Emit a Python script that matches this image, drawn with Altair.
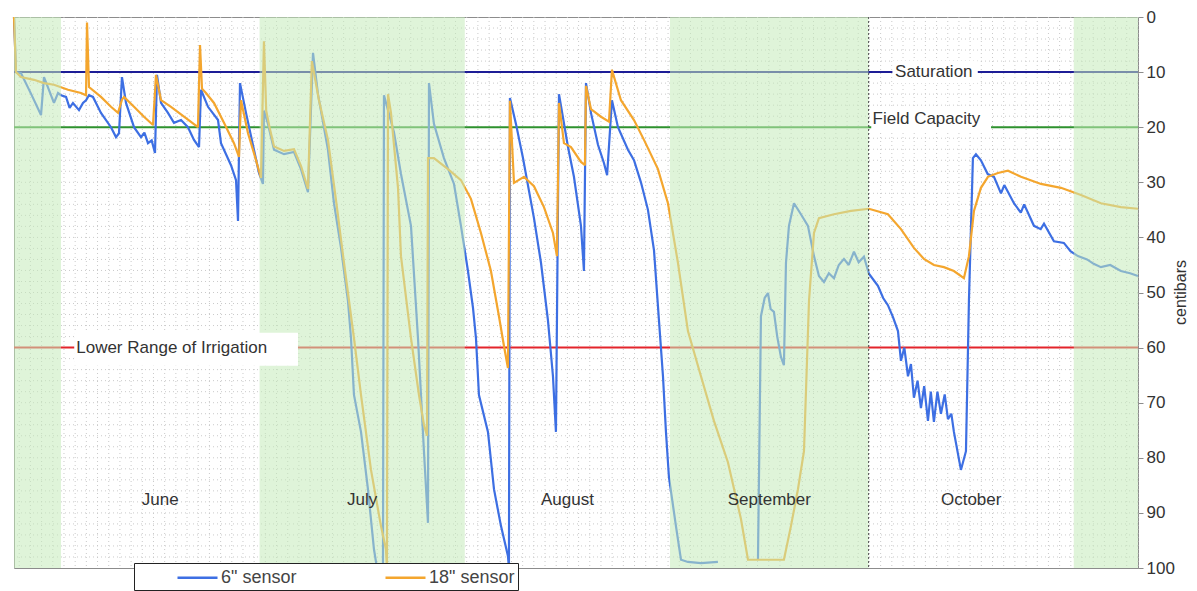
import altair as alt
import pandas as pd
import numpy as np

# ---------------- data ----------------
# day index: 0 = June 1 ; values in centibars
s6_day_a = [-7.1, -6.8, -6.04, -4.5, -3.02, -2.57, -1.06, -0.45, 0.0, 0.76, 1.3, 1.81, 2.72, 3.32, 3.78, 4.23, 4.83,
            6.04, 7.55, 8.31, 8.76, 9.21, 9.82, 11.03, 12.08, 12.6, 13.14, 13.7, 14.2, 14.5, 15.11, 16.16, 17.07,
            18.13, 19.18, 20.09, 20.85, 21.15, 22.21, 23.72, 24.17, 25.68, 26.44, 26.74, 27.04, 27.95, 29.15,
            29.91, 30.51, 30.66, 31.27, 32.18, 33.69, 35.2, 36.25, 37.31, 38.07, 38.82, 40.33, 41.24, 42.3, 43.35,
            43.81, 44.26, 45.32, 46.37, 47.28, 47.73, 48.64, 48.79, 50.3, 51.36, 52.87, 53.93, 54.83, 55.44, 55.59,
            56.34, 57.85, 59.37, 60.42, 61.48, 62.24, 62.69, 63.14, 64.5, 65.41, 66.47, 67.52, 67.67, 67.82, 68.73,
            69.79, 71.45, 72.51, 73.56, 74.32, 74.77, 75.23, 76.59, 77.49, 78.55, 79.0, 79.31, 80.06, 81.12, 82.02,
            82.5, 83.23, 84.14, 85.65, 86.56, 87.61, 88.67, 89.58, 90.33, 90.94, 91.39, 91.84, 92.9, 93.66, 94.71,
            96.68, 99.24]
s6_val_a = [0, 10.0, 10.2, 14.0, 17.8, 10.9, 15.6, 13.8, 14.2, 14.5, 16.5, 15.6, 16.9, 15.6, 15.1, 14.2, 14.5,
            17.4, 20.0, 21.8, 21.1, 10.9, 15.6, 20.0, 21.8, 21.0, 22.9, 22.4, 24.7, 10.5, 15.6, 17.4, 19.2,
            18.7, 20.0, 22.3, 23.6, 13.2, 16.3, 18.7, 22.9, 26.9, 29.6, 37.0, 12.0, 17.4, 24.1,
            28.3, 30.3, 17.0, 19.4, 24.1, 24.9, 24.5, 27.6, 31.8, 6.5, 14.0, 24.1, 33.8, 41.9, 51.5,
            58.3, 68.6, 75.3, 85.7, 96.6, 100, 100, 14.2, 20.9, 28.5, 37.9, 58.3, 78.8, 91.8, 12.0,
            19.4, 25.6, 30.3, 37.9, 46.1, 52.8, 58.3, 68.6, 75.3, 85.7, 92.4, 97.8, 100, 14.7, 19.4,
            25.6, 36.5, 44.6, 55.0, 65.2, 75.3, 14.0, 23.6, 29.0, 37.9, 46.1, 12.0, 17.4, 23.2, 26.5,
            28.7, 15.1, 20.0, 24.1, 26.0, 30.0, 35.0, 42.3, 55.0, 65.2, 75.3, 83.5, 92.4, 98.5, 98.9,
            99.1, 98.9]
s6_day_b = [105.29, 105.74, 106.3, 106.8, 107.2, 107.7, 108.2, 108.76, 109.21, 109.52, 109.97, 110.73, 111.78,
            112.84, 113.75, 114.5, 115.26, 116.0, 116.77, 117.5, 118.28, 119.0, 119.79, 120.5, 121.3, 122.05,
            123.41, 124.2, 124.92, 125.7, 126.44, 126.89, 127.4, 127.95, 128.4, 128.85, 129.4, 129.91, 130.4,
            130.97, 131.4, 131.87, 132.4, 132.93, 133.5, 133.99, 134.5, 134.89, 135.95, 136.71, 137.16, 137.76,
            138.22, 138.97, 140.0, 140.94, 142.0, 142.5, 143.96, 145.0, 145.5, 146.98, 148.0, 148.5, 150.0,
            151.5, 152.5, 153.63, 155.0, 156.0, 157.1, 158.5, 160.12, 161.5, 162.69]
s6_val_b = [98.5, 54.3, 51.0, 50.1, 53.0, 53.5, 58.0, 61.7, 63.2, 44.6, 37.9, 33.8, 35.8,
            37.9, 43.4, 47.0, 48.1, 46.5, 47.4, 45.0, 43.9, 45.0, 42.6, 44.5, 43.5, 46.6,
            48.8, 51.0, 52.3, 54.5, 57.0, 62.4, 60.0, 65.2, 63.0, 69.1, 66.0, 71.0, 67.0,
            73.3, 68.0, 73.5, 68.0, 72.0, 68.5, 73.0, 72.0, 75.3, 82.2, 78.8, 51.5, 25.6,
            24.9, 26.0, 28.5, 29.0, 32.0, 30.5, 33.8, 35.5, 34.0, 37.9, 38.5, 37.5, 40.7,
            41.0, 42.5, 43.4, 44.0, 44.8, 45.4, 45.0, 46.1, 46.5, 47.0]
s18_day = [-7.1, -6.8, -6.04, -4.08, -2.57, -1.06, 1.06, 3.02, 3.78, 3.93, 4.23, 6.04, 7.55, 8.61, 9.21, 9.52,
           11.03, 12.54, 13.9, 14.35, 15.11, 16.62, 18.58, 20.69, 21.0, 21.3, 21.9, 23.11, 24.62, 26.13, 26.89,
           27.19, 28.25, 29.15, 30.21, 30.66, 31.0, 31.5, 32.18, 33.69, 35.2, 36.25, 37.31, 37.9, 38.97, 40.33,
           41.54, 42.75, 44.26, 45.32, 46.83, 48.34, 49.09, 49.24, 49.4, 49.85, 50.91, 51.36, 52.87, 54.08,
           54.83, 55.29, 55.44, 56.34, 58.46, 60.42, 61.93, 63.44, 64.95, 66.16, 66.92, 67.52, 67.82, 68.43,
           69.94, 71.45, 72.96, 74.32, 74.92, 75.23, 75.98, 77.04, 78.55, 79.15, 79.31, 80.06, 81.57, 82.78,
           83.23, 84.59, 86.56, 88.07, 90.18, 91.69, 93.2, 94.71, 96.68, 98.64, 100.75, 102.72, 103.78, 109.21,
           110.27, 111.33, 112.24, 113.0, 113.75, 114.5, 116.77, 119.34, 122.05, 124.92, 126.89, 128.85, 130.36,
           131.87, 133.38, 134.89, 136.4, 137.16, 137.92, 138.97, 140.03, 141.54, 143.05, 145.02, 148.04,
           151.06, 154.08, 157.1, 160.12, 162.69]
s18_val = [0, 10.0, 10.9, 11.4, 12.0, 12.3, 13.2, 13.8, 14.2, 1.0, 12.7, 14.5, 16.3, 17.4, 15.0, 14.5,
           16.3, 18.1, 19.6, 10.5, 15.1, 16.3, 18.1, 20.0, 5.1, 13.0, 13.8, 15.6, 19.2, 22.9, 25.4,
           15.1, 21.1, 24.7, 29.2, 4.4, 17.0, 20.0, 23.5, 24.3, 24.0, 27.0, 31.2, 8.0, 15.1, 22.3,
           33.2, 44.6, 58.3, 68.6, 82.2, 92.4, 96.6, 100, 14.0, 17.4, 31.0, 43.4, 58.3, 68.6,
           74.0, 76.0, 25.6, 25.6, 27.6, 29.6, 33.0, 39.2, 46.1, 54.3, 59.7, 63.7, 15.2, 30.1,
           29.0, 30.7, 34.5, 39.2, 43.4, 15.6, 22.9, 23.6, 26.3, 26.9, 12.5, 16.7, 18.1, 19.0,
           9.6, 15.1, 18.7, 22.3, 27.6, 33.8, 44.6, 57.0, 65.2, 73.3, 80.8, 91.1, 98.5, 98.5,
           92.4, 85.7, 78.8, 51.5, 39.2, 36.5, 35.8, 35.2, 34.8, 35.8, 38.5, 41.9, 43.9,
           45.0, 45.4, 46.1, 47.4, 43.4, 35.2, 31.0, 29.0, 28.3, 27.9, 29.0, 30.3,
           31.0, 32.3, 33.8, 34.5, 34.8]

series_names = ['6" sensor', '18" sensor']
series_colors = ["#3d6fe3", "#f4a62e"]

ref_names = ["Saturation", "Field Capacity", "Lower Range of Irrigation"]
ref_values = [10, 20, 60]
ref_colors = ["#1d1d96", "#2e922e", "#e3242b"]

month_names = ["June", "July", "August", "September", "October"]
month_start = [0, 30, 61, 92, 122]
month_end = [30, 61, 92, 122, 153]

shade_start = [-7.1, 30, 92, 153]
shade_end = [0, 61, 122, 162.7]

# annotation label boxes
lab_text = ["Saturation", "Field Capacity", "Lower Range of Irrigation"]
lab_x = [126.0, 122.6, 2.3]
lab_v = [10.0, 18.5, 60.0]
box_x0 = [125.6, 122.4, 2.0]
box_x1 = [138.5, 140.5, 35.8]
box_v0 = [8.0, 16.2, 57.3]
box_v1 = [12.0, 21.0, 63.3]

X0, X1 = -7.1, 162.7

# ---------------- tables ----------------
rows = []
i = 0
for d, v in zip(s6_day_a, s6_val_a):
    rows.append({"day": d, "cb": v, "series": series_names[0], "seg": "a", "i": i}); i += 1
for d, v in zip(s6_day_b, s6_val_b):
    rows.append({"day": d, "cb": v, "series": series_names[0], "seg": "b", "i": i}); i += 1
for d, v in zip(s18_day, s18_val):
    rows.append({"day": d, "cb": v, "series": series_names[1], "seg": "a", "i": i}); i += 1
series_df = pd.DataFrame(rows)

xgrid_df = pd.DataFrame({"g": np.arange(0.45 - 4 * 1.69, X1, 1.69)})
ygrid_df = pd.DataFrame({"g": np.arange(2, 100, 2)})
ref_df = pd.DataFrame({"name": ref_names, "v": ref_values, "col": ref_colors})
shade_df = pd.DataFrame({"s": shade_start, "e": shade_end})
month_df = pd.DataFrame({"m": month_names,
                         "mid": [(a + b) / 2 for a, b in zip(month_start, month_end)],
                         "v": [87.7] * 5})
box_df = pd.DataFrame({"t": lab_text, "x": lab_x, "v": lab_v,
                       "x0": box_x0, "x1": box_x1, "v0": box_v0, "v1": box_v1})
oct_df = pd.DataFrame({"d": [122]})

FONT = "Liberation Sans"
xs = alt.Scale(domain=[X0, X1], nice=False, zero=False)
ys = alt.Scale(domain=[0, 100], reverse=True, nice=False, zero=False)
y_axis = alt.Axis(orient="right", values=list(range(0, 101, 10)), title="centibars",
                  titleAngle=270, titleX=42, titleY=275, titleAlign="center",
                  titleBaseline="middle", grid=False)

xgrid = alt.Chart(xgrid_df).mark_rule(color="#cacaca", strokeDash=[1, 3], strokeWidth=1).encode(
    x=alt.X("g:Q", scale=xs, axis=None))
ygrid = alt.Chart(ygrid_df).mark_rule(color="#cacaca", strokeDash=[1, 3], strokeWidth=1).encode(
    y=alt.Y("g:Q", scale=ys, axis=y_axis))

refs = alt.Chart(ref_df).mark_rule(strokeWidth=2).encode(
    y=alt.Y("v:Q", scale=ys, axis=y_axis),
    stroke=alt.Stroke("col:N", scale=None))

legend = alt.Legend(title=None, orient="none", legendX=120, legendY=546, direction="horizontal",
                    fillColor="white", strokeColor="#222", padding=3,
                    symbolType="M-2,0H2", symbolSize=400, symbolStrokeWidth=2.5,
                    symbolOffset=49, labelOffset=12, columnPadding=48,
                    labelFontSize=18, labelColor="#444", labelFont=FONT)

lines = alt.Chart(series_df).mark_line(strokeWidth=2.2, strokeMiterLimit=2).encode(
    x=alt.X("day:Q", scale=xs, axis=None),
    y=alt.Y("cb:Q", scale=ys, axis=y_axis),
    color=alt.Color("series:N", scale=alt.Scale(domain=series_names, range=series_colors), legend=legend),
    detail="seg:N",
    order="i:Q")

shade = alt.Chart(shade_df).mark_rect(color="#c4ebba", opacity=0.55).encode(
    x=alt.X("s:Q", scale=xs, axis=None), x2="e:Q")

octline = alt.Chart(oct_df).mark_rule(color="#555555", strokeDash=[2, 2], strokeWidth=1).encode(
    x=alt.X("d:Q", scale=xs, axis=None))

boxes = alt.Chart(box_df).mark_rect(color="white").encode(
    x=alt.X("x0:Q", scale=xs, axis=None), x2="x1:Q",
    y=alt.Y("v0:Q", scale=ys, axis=y_axis), y2="v1:Q")
labels = alt.Chart(box_df).mark_text(align="left", baseline="middle", fontSize=17, font=FONT,
                                     color="#333333").encode(
    x=alt.X("x:Q", scale=xs, axis=None), y=alt.Y("v:Q", scale=ys, axis=y_axis), text="t:N")
months = alt.Chart(month_df).mark_text(align="center", baseline="middle", fontSize=17, font=FONT,
                                       color="#333333").encode(
    x=alt.X("mid:Q", scale=xs, axis=None), y=alt.Y("v:Q", scale=ys, axis=y_axis), text="m:N")

chart = alt.layer(xgrid, ygrid, refs, lines, shade, octline, boxes, labels, months).properties(
    width=1124, height=551,
    padding={"left": 3, "top": 0, "right": 0, "bottom": 0},
).configure_view(stroke="#8c8c8c", strokeWidth=1).configure_axis(
    labelFont=FONT, labelFontSize=17, labelColor="#333333", titleFont=FONT, titleFontSize=16,
    titleFontWeight="normal", titleColor="#333333", domainColor="#8c8c8c", tickColor="#8c8c8c",
    tickSize=5, labelPadding=3, titlePadding=2)

chart.save("out.html", embed_options={"renderer": "svg", "actions": False})
